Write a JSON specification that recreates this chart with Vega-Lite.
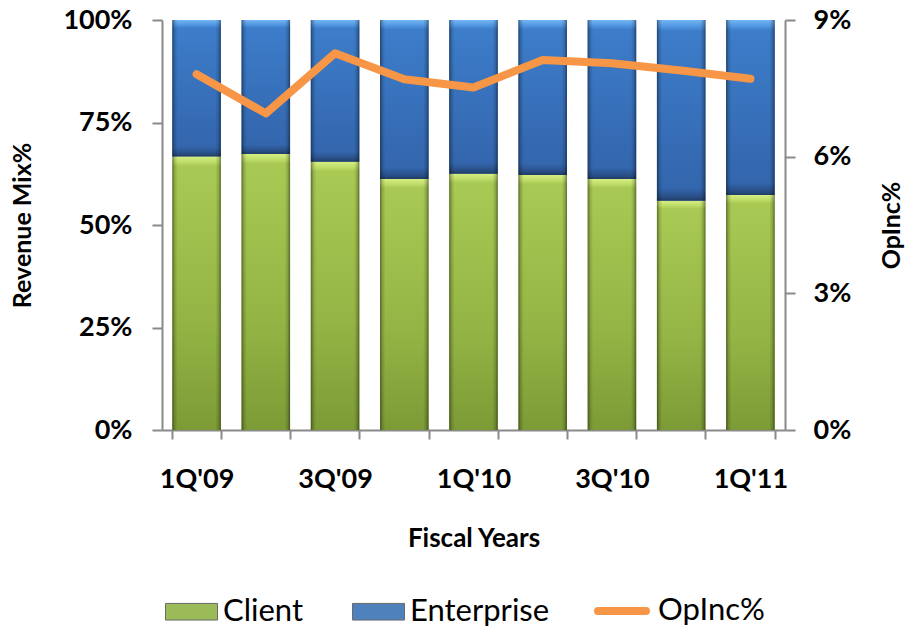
{
  "$schema": "https://vega.github.io/schema/vega-lite/v6.json",
  "width": 623,
  "height": 410,
  "autosize": "none",
  "padding": {"left": 162, "top": 20, "right": 121, "bottom": 198},
  "background": "white",
  "config": {
    "view": {"stroke": null},
    "font": "Lato",
    "axis": {
      "grid": false,
      "domainColor": "#898989",
      "domainWidth": 2,
      "tickColor": "#898989",
      "tickWidth": 2,
      "labelColor": "#000000",
      "titleColor": "#000000",
      "labelFont": "Lato",
      "titleFont": "Lato",
      "labelFontWeight": "bold",
      "titleFontWeight": "bold",
      "labelFontSize": 27,
      "titleFontSize": 25
    },
    "legend": {
      "labelFont": "Lato",
      "labelFontSize": 31,
      "labelFontWeight": "normal",
      "labelColor": "#000000"
    }
  },
  "data": {
    "values": [
      {"quarter": "1Q'09", "client": 0.667, "opinc": 0.0781},
      {"quarter": "2Q'09", "client": 0.673, "opinc": 0.0695},
      {"quarter": "3Q'09", "client": 0.654, "opinc": 0.0827},
      {"quarter": "4Q'09", "client": 0.612, "opinc": 0.0770},
      {"quarter": "1Q'10", "client": 0.625, "opinc": 0.0752},
      {"quarter": "2Q'10", "client": 0.622, "opinc": 0.0812},
      {"quarter": "3Q'10", "client": 0.612, "opinc": 0.0805},
      {"quarter": "4Q'10", "client": 0.559, "opinc": 0.0789},
      {"quarter": "1Q'11", "client": 0.573, "opinc": 0.0771}
    ]
  },
  "encoding": {
    "x": {
      "field": "quarter",
      "type": "ordinal",
      "sort": null,
      "scale": {"paddingInner": 0.3, "paddingOuter": 0.15},
      "axis": {
        "title": "Fiscal Years",
        "titleFontSize": 26,
        "labelAngle": 0,
        "labelOverlap": false,
        "labelExpr": "indexof([\"1Q'09\", \"3Q'09\", \"1Q'10\", \"3Q'10\", \"1Q'11\"], datum.value) >= 0 ? datum.label : ''",
        "tickBand": "extent",
        "tickSize": 9,
        "labelPadding": 27,
        "titlePadding": 33
      }
    }
  },
  "layer": [
    {
      "layer": [
        {
          "mark": {"type": "bar"},
          "encoding": {
            "y": {
              "field": "client",
              "type": "quantitative",
              "scale": {"domain": [0, 1], "nice": false},
              "axis": {
                "title": "Revenue Mix%",
                "values": [0, 0.25, 0.5, 0.75, 1],
                "format": ".0%",
                "tickSize": 10,
                "labelPadding": 20,
                "titlePadding": 27
              }
            },
            "y2": {"datum": 0},
            "fill": {
              "datum": "Client",
              "scale": {"domain": ["Client", "Enterprise"], "range": ["#9bbb59", "#4f81bd"]},
              "legend": {
                "orient": "none",
                "legendX": 3,
                "legendY": 565,
                "direction": "horizontal",
                "title": null,
                "symbolType": "M-1,-0.32H1V0.32H-1Z",
                "symbolSize": 2704,
                "symbolStrokeColor": "#6b6b6b",
                "symbolStrokeWidth": 1,
                "labelOffset": 5,
                "columnPadding": 46
              }
            }
          }
        },
        {
          "mark": {"type": "bar"},
          "encoding": {
            "y": {"field": "client", "type": "quantitative"},
            "y2": {"datum": 1},
            "fill": {"datum": "Enterprise"}
          }
        },
        {
          "mark": {
            "type": "bar",
            "fill": {
              "gradient": "linear",
              "x1": 0, "y1": 0, "x2": 0, "y2": 1,
              "stops": [
                {"offset": 0, "color": "#d6ee82"},
                {"offset": 0.022, "color": "#bcdb66"},
                {"offset": 0.035, "color": "#a8c953"},
                {"offset": 0.6, "color": "#94b545"},
                {"offset": 1, "color": "#7c9b36"}
              ]
            }
          },
          "encoding": {
            "y": {"field": "client", "type": "quantitative"},
            "y2": {"datum": 0}
          }
        },
        {
          "mark": {
            "type": "bar",
            "fill": {
              "gradient": "linear",
              "x1": 0, "y1": 0, "x2": 0, "y2": 1,
              "stops": [
                {"offset": 0, "color": "#74b6f4"},
                {"offset": 0.04, "color": "#4d92de"},
                {"offset": 0.06, "color": "#3d7dca"},
                {"offset": 0.93, "color": "#3366ad"},
                {"offset": 0.975, "color": "#2a5088"},
                {"offset": 1, "color": "#1f3c66"}
              ]
            }
          },
          "encoding": {
            "y": {"field": "client", "type": "quantitative"},
            "y2": {"datum": 1}
          }
        },
        {
          "mark": {
            "type": "bar",
            "fill": {
              "gradient": "linear",
              "x1": 0, "y1": 0, "x2": 1, "y2": 0,
              "stops": [
                {"offset": 0, "color": "rgba(0,0,0,0.45)"},
                {"offset": 0.05, "color": "rgba(0,0,0,0.15)"},
                {"offset": 0.11, "color": "rgba(0,0,0,0)"},
                {"offset": 0.89, "color": "rgba(0,0,0,0)"},
                {"offset": 0.95, "color": "rgba(0,0,0,0.15)"},
                {"offset": 1, "color": "rgba(0,0,0,0.45)"}
              ]
            }
          },
          "encoding": {
            "y": {"datum": 1},
            "y2": {"datum": 0}
          }
        }
      ]
    },
    {
      "mark": {"type": "line", "strokeWidth": 8, "strokeCap": "round", "strokeJoin": "round"},
      "encoding": {
        "y": {
          "field": "opinc",
          "type": "quantitative",
          "scale": {"domain": [0, 0.09], "nice": false},
          "axis": {
            "orient": "right",
            "title": "OpInc%",
            "titleAngle": -90,
            "titleBaseline": "top",
            "values": [0, 0.03, 0.06, 0.09],
            "format": ".0%",
            "tickSize": 10,
            "labelPadding": 18,
            "titlePadding": 29
          }
        },
        "stroke": {
          "datum": "OpInc%",
          "scale": {"domain": ["OpInc%"], "range": ["#f79646"]},
          "legend": {
            "orient": "none",
            "legendX": 432,
            "legendY": 563,
            "direction": "horizontal",
            "title": null,
            "symbolType": "stroke",
            "symbolSize": 2304,
            "symbolStrokeWidth": 8,
            "labelOffset": 8,
            "encode": {"symbols": {"update": {"strokeCap": {"value": "round"}}}}
          }
        }
      }
    }
  ],
  "resolve": {"scale": {"y": "independent"}}
}
